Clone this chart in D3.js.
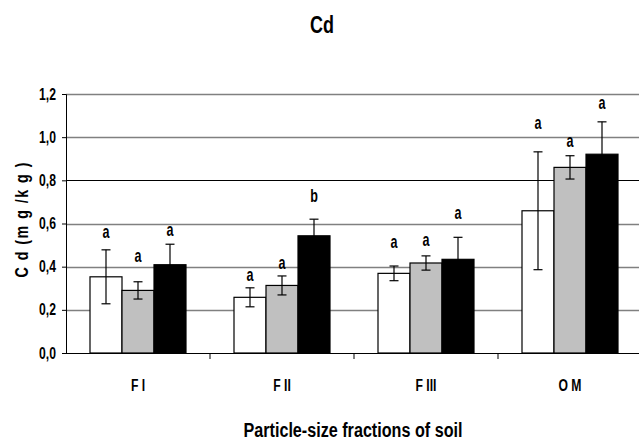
<!DOCTYPE html>
<html>
<head>
<meta charset="utf-8">
<script src="https://cdn.jsdelivr.net/npm/d3@7"></script>
<style>
  body { margin: 0; background: #fff; }
  svg text { font-family: "Liberation Sans", Arial, sans-serif; font-weight: bold; fill: #000; }
</style>
</head>
<body>
<svg id="chart" width="639" height="446"></svg>
<script>
// fractions on the x axis and the three treatments in each group
var categories = ['F I', 'F II', 'F III', 'O M'];
var series = ['s1', 's2', 's3'];
var fills = ['#ffffff', '#c0c0c0', '#000000'];

// mean Cd (mg/kg), one row per fraction
var means = [
  [0.353, 0.290, 0.409],
  [0.258, 0.313, 0.543],
  [0.369, 0.417, 0.434],
  [0.659, 0.860, 0.921]
];
// error bar half-widths
var errors = [
  [0.125, 0.040, 0.095],
  [0.044, 0.044, 0.077],
  [0.034, 0.033, 0.102],
  [0.273, 0.054, 0.150]
];
// significance letters and the value they sit at
var letters = [
  ['a', 'a', 'a'],
  ['a', 'a', 'b'],
  ['a', 'a', 'a'],
  ['a', 'a', 'a']
];
var letterAt = [
  [0.557, 0.449, 0.569],
  [0.361, 0.417, 0.727],
  [0.511, 0.523, 0.648],
  [1.066, 0.983, 1.157]
];
var yTicks = [0, 0.2, 0.4, 0.6, 0.8, 1.0, 1.2];

var svg = d3.select('#chart');
var mLeft = 66, mRight = 642, mTop = 94, mBottom = 353;

// the original type is a narrow bold face; squeeze Liberation Sans to match
function squeeze(sel, k) {
  sel.each(function() {
    var w = this.getComputedTextLength();
    d3.select(this).attr('textLength', w * k).attr('lengthAdjust', 'spacingAndGlyphs');
  });
}

var y = d3.scaleLinear().domain([0, 1.2]).range([mBottom, mTop]);
var x0 = d3.scaleBand().domain(categories).range([mLeft, mRight]);
var bw = x0.bandwidth();
var x1 = d3.scaleBand().domain(series).range([bw / 6, bw * 5 / 6]);

// gridlines
svg.append('g')
  .selectAll('line')
  .data(yTicks.filter(function(d) { return d > 0; }))
  .enter().append('line')
    .attr('x1', mLeft).attr('x2', 639)
    .attr('y1', function(d) { return Math.round(y(d)) + 0.5; })
    .attr('y2', function(d) { return Math.round(y(d)) + 0.5; })
    .attr('stroke', function(d) { return Math.abs(d - 0.8) < 1e-6 ? '#000' : '#808080'; })
    .attr('stroke-width', function(d) { return Math.abs(d - 0.8) < 1e-6 ? 1 : 1.6; });

// bars
var group = svg.append('g')
  .selectAll('g')
  .data(categories)
  .enter().append('g')
    .attr('transform', function(d) { return 'translate(' + x0(d) + ',0)'; });

group.selectAll('rect')
  .data(function(d, i) { return series.map(function(s, j) { return {s: s, j: j, v: means[i][j]}; }); })
  .enter().append('rect')
    .attr('x', function(d) { return x1(d.s); })
    .attr('y', function(d) { return y(d.v); })
    .attr('width', x1.bandwidth())
    .attr('height', function(d) { return y(0) - y(d.v); })
    .attr('fill', function(d) { return fills[d.j]; })
    .attr('stroke', '#000')
    .attr('stroke-width', 1.2);

// error bars
var eb = group.selectAll('g.err')
  .data(function(d, i) { return series.map(function(s, j) { return {s: s, v: means[i][j], e: errors[i][j]}; }); })
  .enter().append('g')
    .attr('class', 'err')
    .attr('stroke', '#000')
    .attr('stroke-width', 1.2);
var cx = function(d) { return x1(d.s) + x1.bandwidth() / 2; };
eb.append('line')
  .attr('x1', cx).attr('x2', cx)
  .attr('y1', function(d) { return y(d.v + d.e); })
  .attr('y2', function(d) { return y(d.v - d.e); });
eb.selectAll('line.cap')
  .data(function(d) { return [{s: d.s, v: d.v + d.e}, {s: d.s, v: d.v - d.e}]; })
  .enter().append('line')
    .attr('class', 'cap')
    .attr('x1', function(d) { return cx(d) - 4.5; })
    .attr('x2', function(d) { return cx(d) + 4.5; })
    .attr('y1', function(d) { return y(d.v); })
    .attr('y2', function(d) { return y(d.v); });

// letters
var lt = group.selectAll('text')
  .data(function(d, i) { return series.map(function(s, j) { return {s: s, l: letters[i][j], la: letterAt[i][j]}; }); })
  .enter().append('text')
    .attr('x', cx)
    .attr('y', function(d) { return y(d.la); })
    .attr('dy', '0.3em')
    .attr('text-anchor', 'middle')
    .style('font-size', '19px')
    .text(function(d) { return d.l; });
squeeze(lt, 0.66);

// y axis
var yAxis = svg.append('g')
  .attr('transform', 'translate(' + mLeft + ',0)')
  .call(d3.axisLeft(y).tickValues(yTicks).tickSize(4).tickPadding(6)
    .tickFormat(function(d) { return d3.format('.1f')(d).replace('.', ','); }));
yAxis.select('.domain').attr('stroke', '#000');
yAxis.selectAll('text').style('font-size', '16px');
squeeze(yAxis.selectAll('text'), 0.76);

// x axis
var xAxis = svg.append('g')
  .attr('transform', 'translate(0,' + mBottom + ')')
  .call(d3.axisBottom(x0).tickSize(0).tickPadding(27));
xAxis.select('.domain').remove();
xAxis.selectAll('text').style('font-size', '16px');
squeeze(xAxis.selectAll('text'), 0.76);
svg.append('line')
  .attr('x1', mLeft - 4).attr('x2', 639)
  .attr('y1', mBottom + 0.5).attr('y2', mBottom + 0.5)
  .attr('stroke', '#000').attr('stroke-width', 1.2);
svg.append('g')
  .selectAll('line')
  .data(categories.slice(1))
  .enter().append('line')
    .attr('x1', function(d) { return x0(d); })
    .attr('x2', function(d) { return x0(d); })
    .attr('y1', mBottom).attr('y2', mBottom + 6)
    .attr('stroke', '#000');

// titles
var title = svg.append('text')
  .attr('x', 322).attr('y', 33)
  .attr('text-anchor', 'middle')
  .style('font-size', '23px')
  .text('Cd');
squeeze(title, 0.78);
svg.append('text')
  .attr('x', 353).attr('y', 437)
  .attr('text-anchor', 'middle')
  .style('font-size', '20px')
  .attr('textLength', 219)
  .attr('lengthAdjust', 'spacingAndGlyphs')
  .text('Particle-size fractions of soil');
svg.append('text')
  .attr('transform', 'translate(28,220) rotate(-90) scale(0.75,1)')
  .attr('text-anchor', 'middle')
  .style('font-size', '19px')
  .attr('textLength', 115 / 0.75)
  .attr('lengthAdjust', 'spacing')
  .text('C d (m g /k g )');
</script>
</body>
</html>
